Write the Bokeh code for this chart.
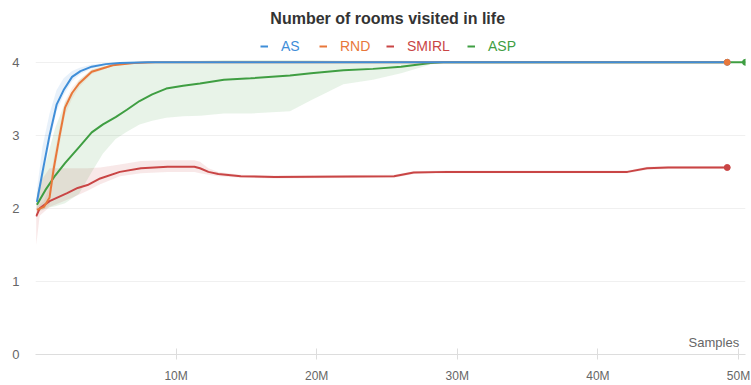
from bokeh.plotting import figure
from bokeh.models import Range1d, FixedTicker, Label, Legend, LegendItem
from bokeh.embed import file_html
from bokeh.resources import INLINE

# ---- data (x in millions of samples) ----
as_x = [0.1, 0.5, 1.0, 1.5, 2.0, 2.6, 3.2, 4.0, 5.0, 6.0, 8.0, 10, 20, 30, 40, 49.2]
as_mean = [2.09, 2.5, 3.0, 3.42, 3.62, 3.8, 3.88, 3.94, 3.975, 3.99, 4.0, 4.0, 4.0, 4.0, 4.0, 4.0]
as_up = [2.25, 2.85, 3.3, 3.62, 3.78, 3.88, 3.93, 3.97, 3.99, 4.0, 4.0, 4.0, 4.0, 4.0, 4.0, 4.0]
as_lo = [2.02, 2.4, 2.9, 3.33, 3.55, 3.74, 3.84, 3.91, 3.96, 3.98, 4.0, 4.0, 4.0, 4.0, 4.0, 4.0]

rnd_x = [0.1, 0.6, 1.0, 1.3, 1.7, 2.1, 2.6, 3.1, 4.0, 5.5, 7.0, 8.5, 10, 20, 30, 40, 49.2]
rnd_mean = [1.98, 2.02, 2.15, 2.55, 2.98, 3.38, 3.58, 3.71, 3.87, 3.96, 3.99, 4.0, 4.0, 4.0, 4.0, 4.0, 4.0]
rnd_up = [2.02, 2.1, 2.3, 2.7, 3.1, 3.47, 3.65, 3.76, 3.9, 3.97, 4.0, 4.0, 4.0, 4.0, 4.0, 4.0, 4.0]
rnd_lo = [1.95, 1.98, 2.05, 2.42, 2.86, 3.28, 3.5, 3.66, 3.84, 3.95, 3.98, 4.0, 4.0, 4.0, 4.0, 4.0, 4.0]

smirl_x = [0.05, 0.3, 1.0, 2.25, 3.0, 3.7, 4.6, 6.0, 7.5, 9.4, 11.3, 11.7, 12.3, 13.0, 14.6, 17,
           25.5, 26.9, 29.3, 35, 42.1, 43.5, 45, 49.2]
smirl_mean = [1.89, 2.0, 2.1, 2.21, 2.28, 2.32, 2.41, 2.5, 2.55, 2.57, 2.57, 2.55, 2.5, 2.47, 2.44, 2.43,
              2.44, 2.49, 2.5, 2.5, 2.5, 2.55, 2.56, 2.56]
smirl_up = [2.1, 2.35, 2.55, 2.55, 2.55, 2.55, 2.56, 2.6, 2.65, 2.66, 2.66, 2.64, 2.55, 2.5, 2.46, 2.45,
            2.46, 2.51, 2.52, 2.52, 2.52, 2.57, 2.58, 2.58]
smirl_lo = [1.5, 1.9, 2.02, 2.12, 2.18, 2.24, 2.33, 2.44, 2.48, 2.5, 2.5, 2.48, 2.46, 2.44, 2.42, 2.41,
            2.42, 2.47, 2.48, 2.48, 2.48, 2.53, 2.54, 2.54]

asp_x = [0.1, 0.7, 1.4, 2.1, 3.1, 4.0, 4.8, 5.7, 6.5, 7.4, 8.3, 9.3, 10.5, 11.7, 13.4, 15.3, 18.1, 19.6,
         21.9, 24.0, 26.0, 28.1, 29.0, 35, 40, 45, 50.5]
asp_mean = [2.05, 2.25, 2.45, 2.62, 2.84, 3.04, 3.15, 3.25, 3.35, 3.47, 3.56, 3.64, 3.68, 3.71, 3.76, 3.78,
            3.82, 3.85, 3.89, 3.91, 3.94, 3.99, 4.0, 4.0, 4.0, 4.0, 4.0]
asp_up = [2.2, 2.6, 3.1, 3.45, 3.75, 3.9, 3.95, 3.98, 4.0, 4.0, 4.0, 4.01, 4.02, 4.02, 4.03, 4.03,
          4.03, 4.03, 4.02, 4.02, 4.02, 4.01, 4.0, 4.0, 4.0, 4.0, 4.0]
asp_lo = [1.95, 2.0, 2.03, 2.07, 2.2, 2.5, 2.75, 2.95, 3.05, 3.15, 3.2, 3.24, 3.26, 3.27, 3.3, 3.3,
          3.33, 3.48, 3.7, 3.76, 3.85, 3.97, 4.0, 4.0, 4.0, 4.0, 4.0]

series_names = ["AS", "RND", "SMIRL", "ASP"]
colors = ["#3f8ed8", "#e8773a", "#c94545", "#3f9e42"]
x_ticks = [10, 20, 30, 40, 50]
x_tick_labels = ["10M", "20M", "30M", "40M", "50M"]
y_ticks = [0, 1, 2, 3, 4]

FONT = "Liberation Sans"

# frame spans the full height so that title and legend (drawn above y=4) are not clipped
p = figure(width=751, height=385, output_backend="svg", toolbar_location=None,
           x_range=Range1d(0, 50.5), y_range=Range1d(0, 4.846),
           min_border_left=35, min_border_right=6, min_border_top=0, min_border_bottom=30)
p.outline_line_color = None
p.background_fill_color = "white"

data = [(as_x, as_mean, as_up, as_lo), (rnd_x, rnd_mean, rnd_up, rnd_lo),
        (smirl_x, smirl_mean, smirl_up, smirl_lo), (asp_x, asp_mean, asp_up, asp_lo)]

for (x, m, u, l), c in zip(data, colors):
    p.varea(x=x, y1=l, y2=u, fill_color=c, fill_alpha=0.12)
# lines drawn in reverse order so that AS sits on top where all reach 4
line_renderers = [None] * 4
for i in reversed(range(4)):
    x, m, u, l = data[i]
    line_renderers[i] = p.line(x, m, line_color=colors[i], line_width=2)
for (x, m, u, l), c in zip(data, colors):
    p.scatter([x[-1]], [m[-1]], size=6, fill_color=c, line_color=c)

# axes
p.xaxis.ticker = FixedTicker(ticks=x_ticks)
p.xaxis.major_label_overrides = {t: s for t, s in zip(x_ticks, x_tick_labels)}
p.xaxis.axis_line_color = "#dddddd"
p.xaxis.major_tick_line_color = "#dddddd"
p.xaxis.major_tick_in = 6
p.xaxis.major_tick_out = 5
p.xaxis.minor_tick_line_color = None
p.xaxis.major_label_standoff = 9
p.xaxis.major_label_text_font = FONT
p.xaxis.major_label_text_font_size = "12px"
p.xaxis.major_label_text_color = "#666666"

p.yaxis.ticker = FixedTicker(ticks=y_ticks)
p.yaxis.axis_line_color = None
p.yaxis.major_tick_line_color = None
p.yaxis.minor_tick_line_color = None
p.yaxis.major_tick_out = 0
p.yaxis.major_label_standoff = 16
p.yaxis.major_label_text_font = FONT
p.yaxis.major_label_text_font_size = "13px"
p.yaxis.major_label_text_color = "#666666"

p.xgrid.grid_line_color = None
p.ygrid.grid_line_color = "#f0f0f0"

# title and axis name
p.add_layout(Label(x=25.05, y=4.60, text="Number of rooms visited in life", text_align="center",
                   text_baseline="middle", text_font=FONT, text_font_size="16px",
                   text_font_style="bold", text_color="#333333"))
p.add_layout(Label(x=50.05, y=0.164, text="Samples", text_align="right", text_baseline="middle",
                   text_font=FONT, text_font_size="13px", text_color="#666666"))

# legend: one per series so each label keeps its colour
legend_x = [225, 284, 351, 432]
for name, c, lx, r in zip(series_names, colors, legend_x, line_renderers):
    lg = Legend(items=[LegendItem(label=name, renderers=[r])], location=(lx, 300),
                orientation="horizontal", border_line_color=None, background_fill_alpha=0,
                padding=0, margin=0, glyph_width=8, glyph_height=14, label_standoff=13,
                label_text_color=c, label_text_font=FONT, label_text_font_size="14px",
                label_height=14)
    p.add_layout(lg, "center")

open("out.html", "w").write(file_html(p, INLINE))
